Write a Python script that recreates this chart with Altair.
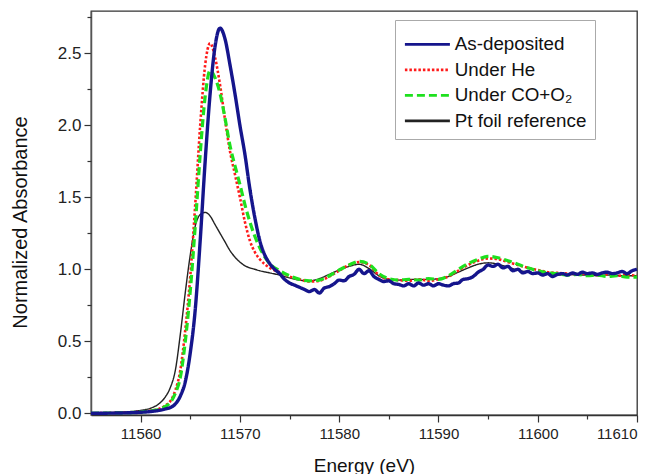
import altair as alt
import pandas as pd

# ---------------- data ----------------
series_names = ["As-deposited", "Under He", "Under CO+O₂", "Pt foil reference"]
series_colors = ["#15158c", "#ff1a1a", "#1ee01e", "#222222"]
series_dash = [[1, 0], [2.5, 2], [8, 4], [1, 0]]
series_width = [3.4, 2.6, 3.2, 1.4]

x_major = [11560, 11570, 11580, 11590, 11600, 11610]
x_minor = [11565, 11575, 11585, 11595, 11605]
y_major = [0.0, 0.5, 1.0, 1.5, 2.0, 2.5]
y_minor = [0.25, 0.75, 1.25, 1.75, 2.25, 2.75]

energy_common = [11555, 11557, 11559, 11560, 11561, 11562,
                 11562.5, 11563, 11563.5, 11564, 11564.5, 11565, 11565.5, 11566, 11566.5, 11567,
                 11567.5, 11568, 11568.5, 11569, 11569.5, 11570, 11570.5, 11571, 11571.5, 11572,
                 11573, 11574, 11575, 11576, 11577, 11578, 11579, 11580, 11581, 11582,
                 11583, 11584, 11585, 11586, 11587, 11588, 11589, 11590, 11591, 11592,
                 11593, 11594, 11595, 11596, 11597, 11598, 11599, 11600, 11601, 11602,
                 11603, 11604, 11605, 11606, 11607, 11608, 11609, 11610]

he_values = [0.0, 0.002, 0.006, 0.01, 0.018, 0.035,
             0.055, 0.085, 0.16, 0.3, 0.58, 0.95, 1.45, 2.0, 2.42, 2.57,
             2.47, 2.28, 2.04, 1.82, 1.66, 1.5, 1.33, 1.2, 1.12, 1.07,
             1.01, 0.98, 0.95, 0.93, 0.915, 0.92, 0.95, 0.99, 1.03, 1.05,
             1.03, 0.96, 0.93, 0.925, 0.92, 0.93, 0.92, 0.93, 0.95, 0.99,
             1.03, 1.06, 1.075, 1.07, 1.05, 1.03, 1.01, 0.995, 0.98, 0.975,
             0.97, 0.965, 0.97, 0.96, 0.965, 0.955, 0.96, 0.955]

co_values = [0.0, 0.002, 0.005, 0.009, 0.016, 0.03,
             0.048, 0.075, 0.14, 0.25, 0.5, 0.85, 1.3, 1.8, 2.2, 2.38,
             2.33, 2.22, 2.05, 1.86, 1.72, 1.59, 1.45, 1.33, 1.23, 1.15,
             1.04, 0.99, 0.955, 0.93, 0.92, 0.925, 0.955, 0.995, 1.03, 1.055,
             1.035, 0.97, 0.935, 0.925, 0.93, 0.925, 0.935, 0.93, 0.955, 1.0,
             1.04, 1.07, 1.09, 1.08, 1.06, 1.035, 1.01, 0.99, 0.975, 0.97,
             0.96, 0.965, 0.955, 0.96, 0.95, 0.955, 0.945, 0.945]

pt_values = [0.0, 0.005, 0.012, 0.02, 0.035, 0.075,
             0.115, 0.18, 0.3, 0.55, 0.84, 1.1, 1.3, 1.38, 1.395, 1.37,
             1.31, 1.25, 1.19, 1.13, 1.085, 1.05, 1.025, 1.01, 1.0, 0.99,
             0.975, 0.96, 0.94, 0.925, 0.92, 0.935, 0.965, 0.995, 1.02, 1.035,
             1.005, 0.955, 0.93, 0.925, 0.93, 0.93, 0.93, 0.935, 0.95, 0.98,
             1.01, 1.035, 1.045, 1.035, 1.015, 0.995, 0.98, 0.97, 0.965, 0.96,
             0.965, 0.96, 0.96, 0.955, 0.96, 0.955, 0.955, 0.955]

energy_dep = [11555, 11557, 11559, 11560, 11561, 11562,
              11562.5, 11563, 11563.5, 11564, 11564.5, 11565, 11565.5, 11566, 11566.5, 11567,
              11567.5, 11568, 11568.5, 11569, 11569.5, 11570, 11570.5, 11571, 11571.5, 11572] + \
             [11572.5 + 0.5 * i for i in range(76)]

dep_values = [0.0, 0.001, 0.004, 0.007, 0.012, 0.022,
              0.03, 0.04, 0.065, 0.12, 0.22, 0.42, 0.72, 1.2, 1.75, 2.22,
              2.55, 2.675, 2.6, 2.42, 2.22, 2.0, 1.8, 1.56, 1.36, 1.2,
              # 11572.5 ... 11610 (0.5 eV steps)
              1.1, 1.04, 1.0, 0.97, 0.93, 0.905, 0.89, 0.875, 0.86, 0.845,
              0.86, 0.835, 0.87, 0.88, 0.9, 0.925, 0.92, 0.95, 0.965, 1.0,
              0.97, 0.99, 0.95, 0.93, 0.915, 0.92, 0.9, 0.895, 0.885, 0.9,
              0.885, 0.905, 0.89, 0.9, 0.885, 0.9, 0.89, 0.885, 0.9, 0.905,
              0.93, 0.935, 0.95, 0.98, 1.0, 1.03, 1.02, 1.035, 1.01, 1.02,
              0.99, 1.0, 0.975, 0.985, 0.97, 0.975, 0.96, 0.97, 0.95, 0.965,
              0.97, 0.96, 0.975, 0.965, 0.98, 0.97, 0.975, 0.965, 0.975, 0.98,
              0.97, 0.975, 0.985, 0.97, 0.99, 1.0]

# ---------------- table ----------------
rows = []
for name, e_list, v_list in [
    ("Pt foil reference", energy_common, pt_values),
    ("Under He", energy_common, he_values),
    ("Under CO+O₂", energy_common, co_values),
    ("As-deposited", energy_dep, dep_values),
]:
    for e, v in zip(e_list, v_list):
        rows.append({"energy": e, "absorbance": v, "series": name})
df = pd.DataFrame(rows)

FONT = "Liberation Sans"

x_scale = alt.Scale(domain=[11555, 11610], nice=False, zero=False)
y_scale = alt.Scale(domain=[-0.012, 2.794], nice=False, zero=False)

x_axis = alt.Axis(values=x_major, format="d", tickSize=7, tickWidth=1.2, tickColor="#333",
                  domainColor="#333", domainWidth=1.5, labelFontSize=15, labelFont=FONT,
                  labelColor="#222", labelPadding=4, title="Energy (eV)", titleFont=FONT,
                  titleFontSize=19, titleFontWeight="normal", titleColor="#111",
                  titleBaseline="middle", titleX=273, titleY=50, grid=False, orient="bottom")
y_axis = alt.Axis(values=y_major, format=".1f", tickSize=7, tickWidth=1.2, tickColor="#333",
                  domainColor="#555", domainWidth=1.5, labelFontSize=17, labelFont=FONT,
                  labelColor="#222", labelPadding=3, title="Normalized Absorbance",
                  titleFont=FONT, titleFontSize=20, titleFontWeight="normal", titleColor="#111",
                  titleBaseline="middle", titleAlign="center", titleAngle=270,
                  titleX=-71, titleY=211, grid=False, orient="left")

legend = alt.Legend(title=" ", titleFontSize=5, titlePadding=2, orient="none",
                    legendX=304, legendY=9,
                    symbolType="M-1,0H5", symbolSize=225, symbolStrokeWidth=2.6,
                    labelFontSize=18.8, labelFont=FONT, labelColor="#111", labelOffset=33,
                    rowPadding=5.5, padding=8, strokeColor="#aaaaaa", fillColor="white",
                    labelLimit=0)

color_enc = alt.Color("series:N", scale=alt.Scale(domain=series_names, range=series_colors),
                      legend=legend)
dash_enc = alt.StrokeDash("series:N", scale=alt.Scale(domain=series_names, range=series_dash),
                          legend=legend)

layers = []
draw_order = ["Pt foil reference", "Under He", "Under CO+O₂", "As-deposited"]
for i, name in enumerate(draw_order):
    w = series_width[series_names.index(name)]
    layer = alt.Chart(df).transform_filter(alt.datum.series == name).mark_line(
        strokeWidth=w, interpolate="monotone"
    ).encode(
        x=alt.X("energy:Q", scale=x_scale, axis=x_axis if i == 0 else None),
        y=alt.Y("absorbance:Q", scale=y_scale, axis=y_axis if i == 0 else None),
        color=color_enc,
        strokeDash=dash_enc,
    )
    layers.append(layer)

minor = alt.Chart(df).mark_point(opacity=0).encode(
    x=alt.X("energy:Q", scale=x_scale,
            axis=alt.Axis(values=x_minor, labels=False, tickSize=4, tickWidth=1.2,
                          tickColor="#333", domain=False, grid=False, title=None, orient="bottom")),
    y=alt.Y("absorbance:Q", scale=y_scale,
            axis=alt.Axis(values=y_minor, labels=False, tickSize=4, tickWidth=1.2,
                          tickColor="#333", domain=False, grid=False, title=None, orient="left")),
)
layers.append(minor)

chart = alt.layer(*layers).resolve_axis(x="independent", y="independent").properties(
    width=546, height=404,
    autosize=alt.AutoSizeParams(type="none"),
    padding={"left": 83, "top": 3, "right": 13, "bottom": 59},
    background="white",
).configure_view(stroke="#333", strokeWidth=1.3)

chart.save("out.html", embed_options={"renderer": "svg", "actions": False})
